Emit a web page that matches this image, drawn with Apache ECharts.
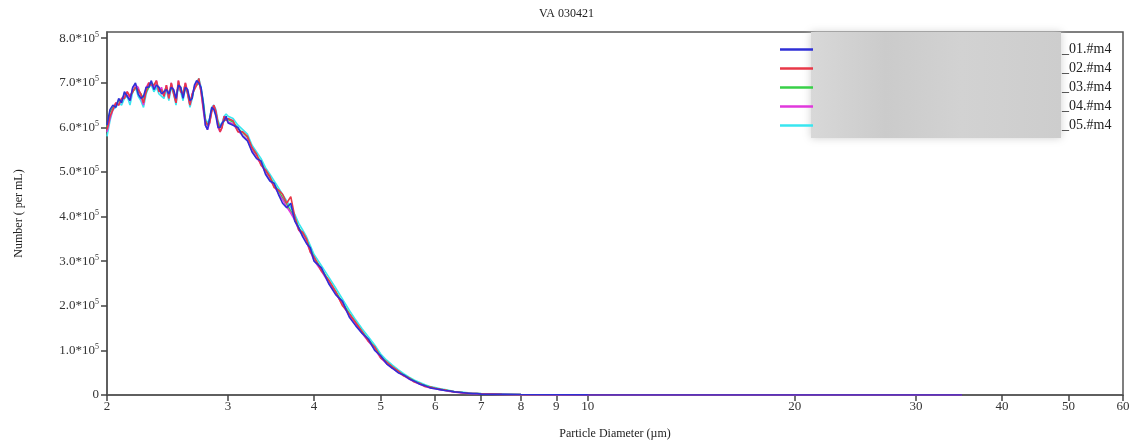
<!DOCTYPE html>
<html>
<head>
<meta charset="utf-8">
<title>VA 030421</title>
<script src="https://cdn.jsdelivr.net/npm/echarts@6/dist/echarts.min.js"></script>
<style>
  html, body { margin: 0; padding: 0; background: #fff; }
  #chart { width: 1133px; height: 445px; }
</style>
</head>
<body>
<div id="chart"></div>
<script>
// particle diameter bins (um)
const diameters = [
  2.00, 2.02, 2.04, 2.06, 2.08, 2.10, 2.12, 2.14, 2.16, 2.18,
  2.20, 2.22, 2.24, 2.26, 2.28, 2.30, 2.32, 2.34, 2.36, 2.38,
  2.40, 2.42, 2.44, 2.46, 2.48, 2.50, 2.52, 2.54, 2.56, 2.58,
  2.60, 2.62, 2.64, 2.66, 2.68, 2.70, 2.72, 2.74, 2.76, 2.78,
  2.80, 2.82, 2.84, 2.86, 2.88, 2.90, 2.92, 2.94, 2.96, 2.98,
  3.00, 3.05, 3.10, 3.15, 3.20, 3.25, 3.30, 3.35, 3.40, 3.45,
  3.50, 3.55, 3.60, 3.65, 3.70, 3.75, 3.80, 3.85, 3.90, 3.95,
  4.0, 4.1, 4.2, 4.3, 4.4, 4.5, 4.6, 4.7, 4.8, 4.9,
  5.0, 5.1, 5.2, 5.3, 5.4, 5.5, 5.6, 5.7, 5.8, 5.9,
  6.0, 6.1, 6.2, 6.3, 6.4, 6.5, 6.6, 6.7, 6.8, 6.9,
  7, 7.5, 8, 9, 10, 12, 15, 20, 25, 30, 35
]

// counts in thousands per mL, one array per file
const run01 = [
  605, 640, 650, 645, 665, 655, 680, 670, 660, 690,
  700, 675, 665, 670, 690, 690, 705, 685, 695, 690,
  675, 680, 685, 675, 690, 685, 665, 695, 690, 665,
  690, 685, 660, 665, 695, 705, 700, 690, 655, 605,
  595, 620, 645, 640, 625, 600, 600, 610, 615, 625,
  610, 605, 600, 580, 570, 545, 530, 525, 495, 480,
  475, 450, 430, 420, 430, 390, 375, 355, 340, 330,
  300, 285, 250, 225, 210, 175, 155, 138, 125, 100,
  88, 70, 60, 50, 45, 36, 31, 24, 21, 16,
  14, 12, 10, 9, 7, 6, 5, 4, 3, 3,
  2, 1.5, 1, 0.5, 0.2, 0.1, 0, 0, 0, 0, 0
]
const run02 = [
  595, 625, 640, 655, 650, 665, 665, 680, 670, 680,
  690, 685, 675, 655, 680, 700, 695, 695, 705, 680,
  685, 670, 695, 665, 700, 675, 655, 705, 680, 675,
  700, 675, 650, 675, 685, 695, 710, 680, 645, 615,
  605, 610, 635, 650, 635, 610, 590, 600, 625, 615,
  620, 615, 590, 590, 580, 555, 540, 515, 505, 490,
  465, 460, 450, 430, 445, 400, 370, 365, 350, 320,
  310, 278, 258, 232, 200, 182, 162, 142, 120, 108,
  83, 74, 63, 54, 43, 38, 29, 26, 19, 18,
  15, 13, 11, 9, 7, 6, 5, 4, 3.5, 3,
  2.5, 1.5, 0.8, 0.4, 0.2, 0, 0, 0, 0, 0, 0
]
const run03 = [
  600, 635, 645, 650, 660, 660, 675, 670, 670, 680,
  690, 680, 675, 665, 680, 690, 700, 695, 695, 690,
  680, 680, 690, 675, 690, 680, 665, 695, 690, 670,
  690, 680, 660, 670, 690, 695, 700, 685, 655, 615,
  605, 615, 640, 645, 630, 610, 600, 605, 615, 620,
  620, 612, 598, 588, 578, 552, 538, 522, 502, 488,
  472, 458, 442, 428, 412, 398, 375, 362, 348, 328,
  308, 283, 257, 232, 207, 183, 162, 142, 124, 107,
  87, 74, 63, 53, 45, 38, 31, 26, 21, 18,
  15, 13, 11, 9, 7, 6, 5, 4, 3.5, 3,
  2.5, 1.5, 0.8, 0.4, 0.2, 0.1, 0, 0, 0, 0, 0
]
const run04 = [
  590, 620, 640, 655, 650, 665, 670, 680, 660, 690,
  695, 690, 670, 650, 690, 700, 695, 690, 705, 680,
  690, 670, 695, 665, 700, 680, 655, 705, 680, 675,
  700, 680, 650, 675, 690, 700, 705, 680, 640, 605,
  595, 610, 640, 650, 635, 600, 590, 600, 625, 620,
  612, 608, 592, 582, 572, 548, 532, 518, 498, 482,
  468, 452, 438, 422, 408, 392, 370, 358, 342, 322,
  302, 278, 252, 228, 203, 178, 158, 138, 120, 103,
  83, 70, 60, 51, 43, 36, 29, 24, 19, 16,
  14, 12, 10, 8, 7, 5, 4, 3.5, 3, 2.5,
  2, 1.2, 0.6, 0.3, 0.1, 0, 0, 0, 0, 0, 0
]
const run05 = [
  580, 615, 640, 645, 655, 650, 665, 670, 650, 680,
  690, 670, 660, 645, 675, 690, 695, 680, 690, 675,
  670, 665, 685, 660, 690, 675, 650, 695, 680, 660,
  690, 675, 645, 665, 690, 700, 710, 690, 660, 620,
  610, 620, 645, 650, 640, 615, 605, 610, 625, 630,
  625, 620, 605, 595, 585, 560, 545, 530, 510, 495,
  480, 465, 450, 435, 420, 405, 385, 370, 355, 335,
  315, 290, 265, 240, 215, 190, 168, 148, 130, 112,
  92, 78, 67, 57, 48, 40, 33, 28, 23, 19,
  17, 14, 12, 10, 8, 7, 6, 5, 4, 3.5,
  3, 2, 1, 0.5, 0.2, 0.1, 0, 0, 0, 0, 0
]

const fileNames = ['_01.#m4', '_02.#m4', '_03.#m4', '_04.#m4', '_05.#m4']
const runs = [run01, run02, run03, run04, run05]
const colors = ['#2f2fd6', '#e83848', '#38d048', '#e038dc', '#38e6f0']
const seriesZ = [7, 6, 4, 5, 3]

const xTicks = [2, 3, 4, 5, 6, 7, 8, 9, 10, 20, 30, 40, 50, 60]
const yTicks = [0, 100000, 200000, 300000, 400000, 500000, 600000, 700000, 800000]

const font = 'Liberation Serif'

const chart = echarts.init(document.getElementById('chart'))

const series = runs.map((run, i) => ({
  name: fileNames[i],
  type: 'line',
  symbol: 'none',
  z: seriesZ[i],
  data: diameters.map((d, j) => [d, run[j] * 1000]),
  lineStyle: { color: colors[i], width: 1.6 },
  itemStyle: { color: colors[i] }
}))

chart.setOption({
  backgroundColor: '#fff',
  animation: false,
  title: {
    text: 'VA 030421',
    left: 'center',
    top: 3,
    textStyle: { fontFamily: font, fontSize: 12, fontWeight: 'normal', color: '#222' }
  },
  grid: {
    left: 107,
    right: 10,
    top: 32,
    bottom: 50,
    show: true,
    borderColor: '#555',
    borderWidth: 1.5
  },
  graphic: [
    {
      type: 'rect',
      left: 811,
      top: 32,
      z: 1,
      shape: { width: 250, height: 106 },
      style: {
        fill: new echarts.graphic.LinearGradient(0, 0, 1, 0, [
          { offset: 0, color: '#d8d8d8' },
          { offset: 0.3, color: '#cbcbcb' },
          { offset: 0.6, color: '#d2d2d2' },
          { offset: 1, color: '#cdcdcd' }
        ]),
        shadowBlur: 8,
        shadowColor: '#d0d0d0'
      }
    }
  ],
  legend: {
    data: fileNames,
    orient: 'vertical',
    left: 775,
    top: 37,
    z: 10,
    icon: 'rect',
    itemWidth: 33,
    itemHeight: 2.5,
    itemGap: 4,
    formatter: (name) => '{g|}{t|' + name + '}',
    textStyle: {
      fontFamily: font,
      fontSize: 13,
      color: '#222',
      lineHeight: 15,
      rich: {
        g: { width: 244 },
        t: { fontFamily: font, fontSize: 14, color: '#222' }
      }
    }
  },
  xAxis: {
    type: 'log',
    logBase: 10,
    min: 2,
    max: 60,
    name: 'Particle Diameter (µm)',
    nameLocation: 'middle',
    nameGap: 33,
    nameTextStyle: { fontFamily: font, fontSize: 12, color: '#222' },
    axisLine: { lineStyle: { color: '#555', width: 1.5 } },
    axisTick: { customValues: xTicks, length: 6, lineStyle: { color: '#444', width: 1.5 } },
    axisLabel: {
      customValues: xTicks,
      fontFamily: font,
      fontSize: 13,
      color: '#333',
      margin: 5
    },
    minorTick: { show: false },
    splitLine: { show: false }
  },
  yAxis: {
    type: 'value',
    min: 0,
    max: 814000,
    name: 'Number ( per mL)',
    nameLocation: 'middle',
    nameGap: 82,
    nameTextStyle: { fontFamily: font, fontSize: 12, color: '#222' },
    axisLine: { show: true, lineStyle: { color: '#555', width: 1.5 } },
    axisTick: { show: true, customValues: yTicks, length: 6, lineStyle: { color: '#444', width: 1.5 } },
    axisLabel: {
      customValues: yTicks,
      fontFamily: font,
      fontSize: 13,
      color: '#333',
      margin: 8,
      formatter: (v) => v === 0 ? '0' : (v / 100000).toFixed(1) + '*10{s|5}',
      rich: {
        s: { fontFamily: font, fontSize: 8, color: '#333', verticalAlign: 'top', padding: [0, 0, 7, 0] }
      }
    },
    splitLine: { show: false }
  },
  series: series
})
</script>
</body>
</html>
